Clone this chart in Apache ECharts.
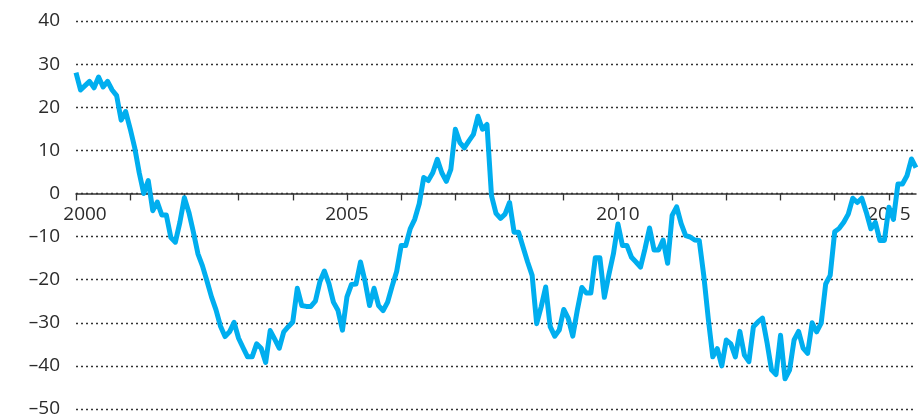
<!DOCTYPE html>
<html>
<head>
<meta charset="utf-8">
<script src="https://cdn.jsdelivr.net/npm/echarts@6/dist/echarts.min.js"></script>
<style>
  html, body { margin: 0; padding: 0; background: #fff; }
  #chart { width: 923px; height: 414px; }
</style>
</head>
<body>
<div id="chart"></div>
<script>
// monthly values, one array per year
var v2000 = [28, 24, 25, 26, 24.5, 27, 24.7, 26, 24, 22.7, 17, 19];
var v2001 = [15, 10.6, 4.8, 0, 3, -4, -2, -5, -5, -10.2, -11.3, -6.7];
var v2002 = [-1, -4.4, -9, -14, -16.8, -20.3, -24, -27, -30.8, -33.2, -32.1, -29.9];
var v2003 = [-33.6, -35.8, -37.9, -37.9, -34.9, -35.9, -39.2, -31.8, -33.8, -35.9, -32.1, -30.9];
var v2004 = [-29.8, -22, -26, -26.2, -26.2, -25, -20.5, -18, -20.9, -25.2, -27.1, -31.7];
var v2005 = [-24, -21.1, -21, -15.9, -20.4, -26, -22, -26, -27.2, -25.2, -21.5, -18.1];
var v2006 = [-12.1, -12.1, -8.2, -6, -2.4, 3.7, 3, 4.8, 7.9, 4.8, 2.8, 5.6];
var v2007 = [14.9, 11.8, 10.6, 12.2, 13.7, 17.9, 14.9, 16, -0.5, -4.6, -5.8, -4.8];
var v2008 = [-2.1, -9, -9, -12.5, -15.9, -19, -30.2, -26.3, -21.7, -30.9, -33.1, -31.7];
var v2009 = [-26.9, -29, -33.1, -27.1, -21.8, -23.1, -23.1, -14.9, -14.9, -24.1, -18.8, -14];
var v2010 = [-7.1, -12.1, -12.1, -14.8, -15.9, -17.1, -12.8, -8, -13.1, -13.1, -10.8, -16.2];
var v2011 = [-5.1, -3.1, -7, -9.8, -10.1, -10.8, -10.9, -19, -29, -37.9, -36, -40];
var v2012 = [-34, -34.9, -37.9, -32, -37.5, -39, -30.9, -29.8, -28.9, -34.5, -40.9, -42];
var v2013 = [-32.9, -43, -41, -34, -32, -35.9, -37.1, -30, -32.1, -30.1, -21, -19];
var v2014 = [-8.9, -8.1, -6.7, -4.8, -1.1, -2.1, -1.1, -4.4, -8.2, -6.7, -10.9, -10.9];
var v2015 = [-3.2, -6, 2.2, 2.2, 4.1, 8, 6];

var years = [2000, 2001, 2002, 2003, 2004, 2005, 2006, 2007, 2008, 2009, 2010, 2011, 2012, 2013, 2014, 2015];
var yearLabels = ['2000', '2005', '2010', '2015'];
var yMin = -50, yMax = 40;

var values = [].concat(v2000, v2001, v2002, v2003, v2004, v2005, v2006, v2007,
                       v2008, v2009, v2010, v2011, v2012, v2013, v2014, v2015);

// one category per month
var months = [];
years.forEach(function (y) {
  for (var m = 1; m <= 12; m++) {
    if (months.length < values.length) months.push(y + '-' + (m < 10 ? '0' + m : m));
  }
});

var myChart = echarts.init(document.getElementById('chart'));

var textColor = '#2b2b2b';
var font = '"Open Sans", "DejaVu Sans", sans-serif';

// plot area
var chartH = 414, gridTop = 21, gridBottom = 5;
var plotH = chartH - gridTop - gridBottom;
// pixel row of the zero line; a second grid ends there so the year axis sits on zero
var zeroY = gridTop + plotH * yMax / (yMax - yMin);

var option = {
  animation: false,
  grid: [
    { left: 76, right: 7, top: gridTop, bottom: gridBottom, outerBoundsMode: 'none' },
    { left: 76, right: 7, top: gridTop, bottom: chartH - zeroY, outerBoundsMode: 'none' }
  ],
  xAxis: [
    {
      type: 'category',
      gridIndex: 0,
      data: months,
      boundaryGap: false,
      show: false
    },
    {
      type: 'category',
      gridIndex: 1,
      data: months,
      boundaryGap: false,
      axisLine: { lineStyle: { color: '#333', width: 1.5 } },
      axisTick: {
        interval: function (idx) { return idx % 12 === 0; },
        length: 7,
        lineStyle: { color: '#333', width: 1.3 }
      },
      axisLabel: {
        interval: function (idx, val) { return yearLabels.indexOf(val.slice(0, 4)) >= 0 && val.slice(5) === '01'; },
        margin: 12,
        color: textColor,
        fontSize: 19,
        fontFamily: font,
        formatter: function (val) {
          var y = val.slice(0, 4);
          return y === yearLabels[0] ? '{s|' + y + '}' : y;
        },
        rich: {
          s: { padding: [0, 0, 0, 18], color: textColor, fontSize: 19, fontFamily: font }
        }
      },
      splitLine: { show: false }
    }
  ],
  yAxis: [
    {
      type: 'value',
      gridIndex: 0,
      min: yMin,
      max: yMax,
      interval: 10,
      axisLine: { show: false },
      axisTick: { show: false },
      axisLabel: {
        margin: 16,
        color: textColor,
        fontSize: 19,
        fontFamily: font,
        formatter: function (v) { return v < 0 ? '\u2013' + (-v) : '' + v; }
      },
      splitLine: { lineStyle: { color: '#333', width: 1.3, type: [2, 3] } }
    },
    {
      type: 'value',
      gridIndex: 1,
      min: 0,
      max: 1,
      show: false
    }
  ],
  series: [
    {
      type: 'line',
      xAxisIndex: 0,
      yAxisIndex: 0,
      data: values,
      showSymbol: false,
      symbol: 'none',
      lineStyle: { color: '#00aeef', width: 5, join: 'round' },
      z: 3
    }
  ]
};

myChart.setOption(option);
</script>
</body>
</html>
